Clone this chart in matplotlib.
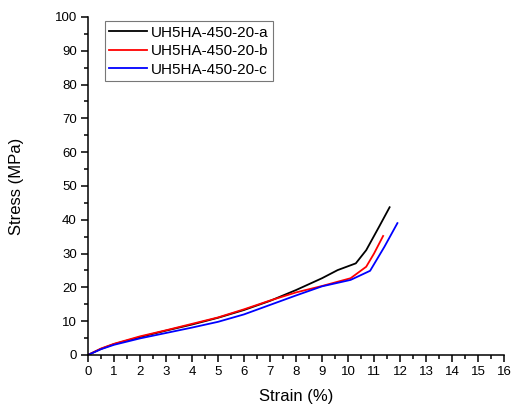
import matplotlib
matplotlib.use("Agg")
import matplotlib.pyplot as plt
from matplotlib.ticker import MultipleLocator

plt.rcParams['font.family'] = ['Liberation Sans', 'DejaVu Sans']

# values
strain_a = [0, 0.5, 1, 2, 3, 4, 5, 6, 7, 8, 9, 9.6, 10.3, 10.7, 11.2, 11.6]
stress_a = [0, 1.8, 3.2, 5.3, 7.2, 9.0, 11.0, 13.3, 16.0, 19.2, 22.7, 25.1, 27.1, 31.0, 38.0, 43.7]

strain_b = [0, 0.5, 1, 2, 3, 4, 5, 6, 7, 8, 9, 10.1, 10.7, 11.0, 11.35]
stress_b = [0, 1.9, 3.3, 5.5, 7.3, 9.2, 11.1, 13.5, 16.1, 18.5, 20.4, 22.7, 26.1, 30.0, 35.2]

strain_c = [0, 0.5, 1, 2, 3, 4, 5, 6, 7, 8, 9, 10.1, 10.85, 11.4, 11.9]
stress_c = [0, 1.7, 3.0, 4.9, 6.5, 8.1, 9.8, 12.0, 14.8, 17.6, 20.3, 22.2, 24.9, 32.0, 39.0]

labels = ['UH5HA-450-20-a', 'UH5HA-450-20-b', 'UH5HA-450-20-c']

fig = plt.figure(figsize=(5.13, 4.08), dpi=100)
ax = fig.add_axes([0.1715, 0.13, 0.811, 0.8285])

ax.plot(strain_a, stress_a, color='black', lw=1.3, label=labels[0])
ax.plot(strain_b, stress_b, color='red', lw=1.3, label=labels[1])
ax.plot(strain_c, stress_c, color='blue', lw=1.3, label=labels[2])

ax.set_xlim(0, 16)
ax.set_ylim(0, 100)
ax.xaxis.set_major_locator(MultipleLocator(1))
ax.xaxis.set_minor_locator(MultipleLocator(0.5))
ax.yaxis.set_major_locator(MultipleLocator(10))
ax.yaxis.set_minor_locator(MultipleLocator(5))
ax.spines['top'].set_visible(False)
ax.spines['right'].set_visible(False)
ax.spines['left'].set_linewidth(1.1)
ax.spines['bottom'].set_linewidth(1.1)
ax.tick_params(which='major', direction='out', length=5, width=1.1, labelsize=9.5, pad=3)
ax.tick_params(which='minor', direction='out', length=3, width=1.1)

ax.set_xlabel('Strain (%)', fontsize=12, labelpad=8)
ax.set_ylabel('Stress (MPa)', fontsize=12, labelpad=22)

leg = ax.legend(loc='upper left', bbox_to_anchor=(0.04, 0.988), fontsize=11,
                frameon=True, fancybox=False, edgecolor='#555555',
                handlelength=2.45, handletextpad=0.3, labelspacing=0.3,
                borderpad=0.3, borderaxespad=0)
leg.get_frame().set_linewidth(0.8)

plt.savefig('out.png', dpi=100)
plt.close()
